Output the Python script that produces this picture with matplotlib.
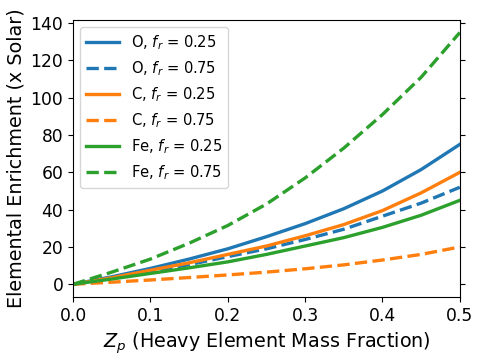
import matplotlib
matplotlib.use('Agg')
import matplotlib.pyplot as plt

# heavy element mass fraction
zp = [0.0, 0.05, 0.1, 0.15, 0.2, 0.25, 0.3, 0.35, 0.4, 0.45, 0.5]

# enrichment (x solar)
o_25 = [0, 4.0, 8.5, 13.5, 19.0, 25.5, 32.5, 40.5, 50.0, 61.5, 75.0]
o_75 = [0, 3.2, 6.8, 10.5, 14.8, 19.0, 24.0, 29.5, 36.5, 43.5, 52.0]
c_25 = [0, 3.5, 7.5, 11.5, 16.0, 20.5, 26.0, 32.0, 39.5, 49.0, 60.0]
c_75 = [0, 1.1, 2.3, 3.6, 5.0, 6.5, 8.3, 10.4, 13.0, 16.0, 20.0]
fe_25 = [0, 2.8, 5.8, 8.8, 12.0, 16.0, 20.5, 25.0, 30.5, 37.0, 45.0]
fe_75 = [0, 6.5, 13.5, 22.0, 31.5, 43.0, 57.0, 73.0, 91.0, 111.0, 135.0]

series = [
    ('O', '0.25', o_25, 'tab:blue', '-'),
    ('O', '0.75', o_75, 'tab:blue', '--'),
    ('C', '0.25', c_25, 'tab:orange', '-'),
    ('C', '0.75', c_75, 'tab:orange', '--'),
    ('Fe', '0.25', fe_25, 'tab:green', '-'),
    ('Fe', '0.75', fe_75, 'tab:green', '--'),
]

fig = plt.figure(figsize=(4.84, 3.62), dpi=100)
ax = fig.add_axes([0.151, 0.180, 0.799, 0.765])

for el, fr, vals, col, ls in series:
    ax.plot(zp, vals, color=col, ls=ls, lw=2.4,
            label=f'{el}, $f_r$ = {fr}')

ax.set_xlim(0, 0.5)
ax.set_xticks([0.0, 0.1, 0.2, 0.3, 0.4, 0.5])
ax.set_yticks([0, 20, 40, 60, 80, 100, 120, 140])
ax.tick_params(labelsize=12.3)
ax.yaxis.set_ticks_position('both')

ax.set_xlabel('$Z_p$ (Heavy Element Mass Fraction)', fontsize=13.8)
ax.set_ylabel('Elemental Enrichment (x Solar)', fontsize=13.8)
ax.legend(loc='upper left', fontsize=10.6, handlelength=2.2)

fig.savefig('out.png', dpi=100)
